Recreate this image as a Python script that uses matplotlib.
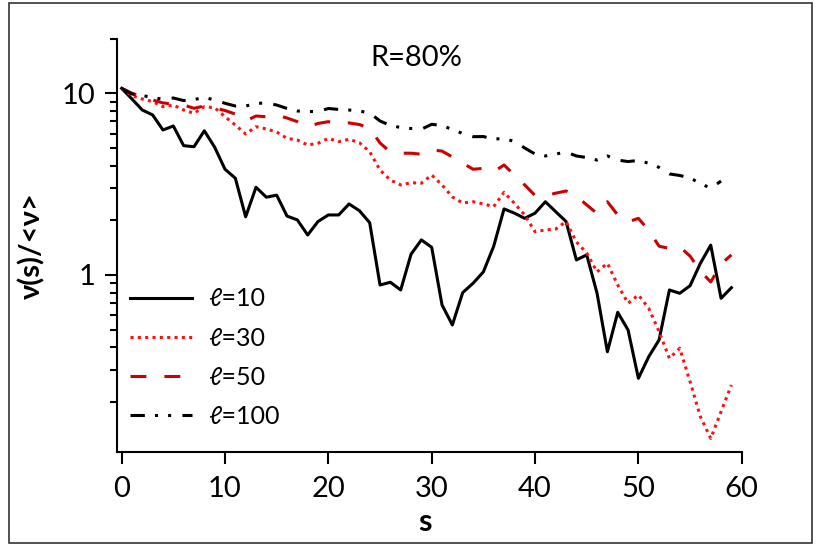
# nu(s)/<nu> vs s for several ell values, R=80%

import matplotlib
matplotlib.use("Agg")
import matplotlib.pyplot as plt
from matplotlib.patches import Rectangle
from matplotlib.ticker import LogLocator, NullFormatter, FixedLocator

plt.rcParams['font.family'] = ['Lato', 'DejaVu Sans']

s = list(range(60))

nu_l10 = [10.65, 9.3, 8.09, 7.6, 6.28, 6.61, 5.15, 5.08, 6.22, 5.05,
          3.82, 3.41, 2.09, 3.04, 2.68, 2.75, 2.11, 2.01, 1.66, 1.97,
          2.14, 2.14, 2.46, 2.26, 1.94, 0.881, 0.912, 0.827, 1.30, 1.56,
          1.42, 0.684, 0.531, 0.80, 0.90, 1.04, 1.44, 2.31, 2.19, 2.05,
          2.19, 2.53, 2.23, 1.97, 1.21, 1.29, 0.793, 0.378, 0.623, 0.498,
          0.27, 0.355, 0.439, 0.827, 0.793, 0.873, 1.16, 1.46, 0.744, 0.851]

nu_l30 = [10.65, 9.7, 9.3, 9.0, 8.44, 8.62, 8.09, 7.76, 8.44, 8.33,
          7.43, 6.69, 5.97, 6.55, 6.36, 6.12, 5.65, 5.53, 5.19, 5.31,
          5.65, 5.42, 5.58, 5.35, 4.77, 3.78, 3.33, 3.13, 3.22, 3.2,
          3.55, 3.13, 2.69, 2.49, 2.53, 2.46, 2.38, 2.85, 2.48, 2.14,
          1.73, 1.77, 1.79, 1.97, 1.52, 1.32, 1.04, 1.16, 0.881, 0.699,
          0.776, 0.656, 0.488, 0.348, 0.395, 0.259, 0.166, 0.126, 0.177, 0.248]

nu_l50 = [10.65, 10.0, 9.58, 9.19, 8.85, 8.73, 8.62, 8.27, 8.51, 8.3,
          8.04, 7.69, 7.04, 7.5, 7.43, 7.6, 7.31, 6.98, 6.55, 6.82,
          6.98, 6.75, 6.87, 6.73, 6.42, 5.33, 4.75, 4.68, 4.68, 4.62,
          4.88, 4.81, 4.46, 4.13, 3.82, 3.86, 3.7, 4.03, 3.55, 3.13,
          2.74, 2.73, 2.82, 2.9, 2.72, 2.43, 2.18, 2.53, 2.14, 1.96,
          2.05, 1.76, 1.44, 1.40, 1.43, 1.27, 1.05, 0.915, 1.15, 1.29]

s_l100 = list(range(59))
nu_l100 = [10.65, 9.91, 9.72, 9.48, 9.27, 9.42, 9.12, 9.24, 9.48, 9.19,
           8.81, 8.51, 8.51, 8.79, 8.85, 8.62, 8.25, 7.99, 7.94, 7.93,
           8.25, 8.15, 8.09, 7.99, 7.79, 7.04, 6.65, 6.48, 6.4, 6.34,
           6.75, 6.65, 6.32, 6.01, 5.77, 5.78, 5.6, 5.64, 5.43, 5.0,
           4.63, 4.52, 4.63, 4.75, 4.52, 4.43, 4.29, 4.52, 4.29, 4.21,
           4.27, 4.12, 3.91, 3.6, 3.53, 3.42, 3.19, 3.0, 3.29]

x_ticks = [0, 10, 20, 30, 40, 50, 60]
y_ticks = [1, 10]
y_ticklabels = ['1', '10']

fig = plt.figure(figsize=(8.16, 5.46), dpi=100)
ax = fig.add_axes([0.143, 0.1727, 0.766, 0.7566])

lw = 2.2
ax.plot(s, nu_l10, color='black', lw=lw, label='ℓ=10')
ax.plot(s, nu_l30, color='#ff1010', lw=lw, linestyle=(0, (1, 1.4)), label='ℓ=30')
ax.plot(s, nu_l50, color='#cc0000', lw=lw, linestyle=(0, (5.2, 5.9)), label='ℓ=50')
ax.plot(s_l100, nu_l100, color='black', lw=lw,
        linestyle=(0, (4.7, 3.3, 1, 3.3, 1, 3.7)), label='ℓ=100')

ax.set_yscale('log')
ax.set_xlim(-0.48, 60)
ax.set_ylim(0.1065, 20)

ax.set_xticks(x_ticks)
ax.set_yticks(y_ticks)
ax.set_yticklabels(y_ticklabels)
ax.yaxis.set_minor_locator(LogLocator(base=10, subs=range(2, 10)))
ax.yaxis.set_minor_formatter(NullFormatter())
ax.xaxis.set_minor_locator(FixedLocator([]))

for side in ['top', 'right']:
    ax.spines[side].set_visible(False)
for side in ['left', 'bottom']:
    ax.spines[side].set_linewidth(1.5)

ax.tick_params(axis='both', which='major', direction='out', length=8.6,
               width=1.5, labelsize=21, pad=7)
ax.tick_params(axis='x', which='major', pad=9)
ax.tick_params(axis='y', which='minor', direction='out', length=5, width=1.5)

ax.set_xlabel('s', fontsize=22, fontweight='bold')
ax.xaxis.label.set_va('center')
ax.xaxis.set_label_coords(0.493, -0.17)
ax.set_ylabel('ν(s)/<ν>', fontsize=21, fontweight='bold')
ax.yaxis.label.set_va('center')
ax.yaxis.set_label_coords(-0.1355, 0.5)

ax.text(0.479, 0.953, 'R=80%', transform=ax.transAxes, fontsize=21,
        ha='center', va='center')

ax.legend(loc='upper left', bbox_to_anchor=(0.0213, 0.398), frameon=False,
          fontsize=18, handlelength=2.48, handletextpad=0.64,
          labelspacing=0.65, borderpad=0, borderaxespad=0)

# thin frame around the whole picture
fig.patches.append(Rectangle((0.011, 0.0055), 0.984, 0.989, transform=fig.transFigure,
                             fill=False, edgecolor='#333333', lw=1.2))

fig.savefig('out.png', dpi=100)
